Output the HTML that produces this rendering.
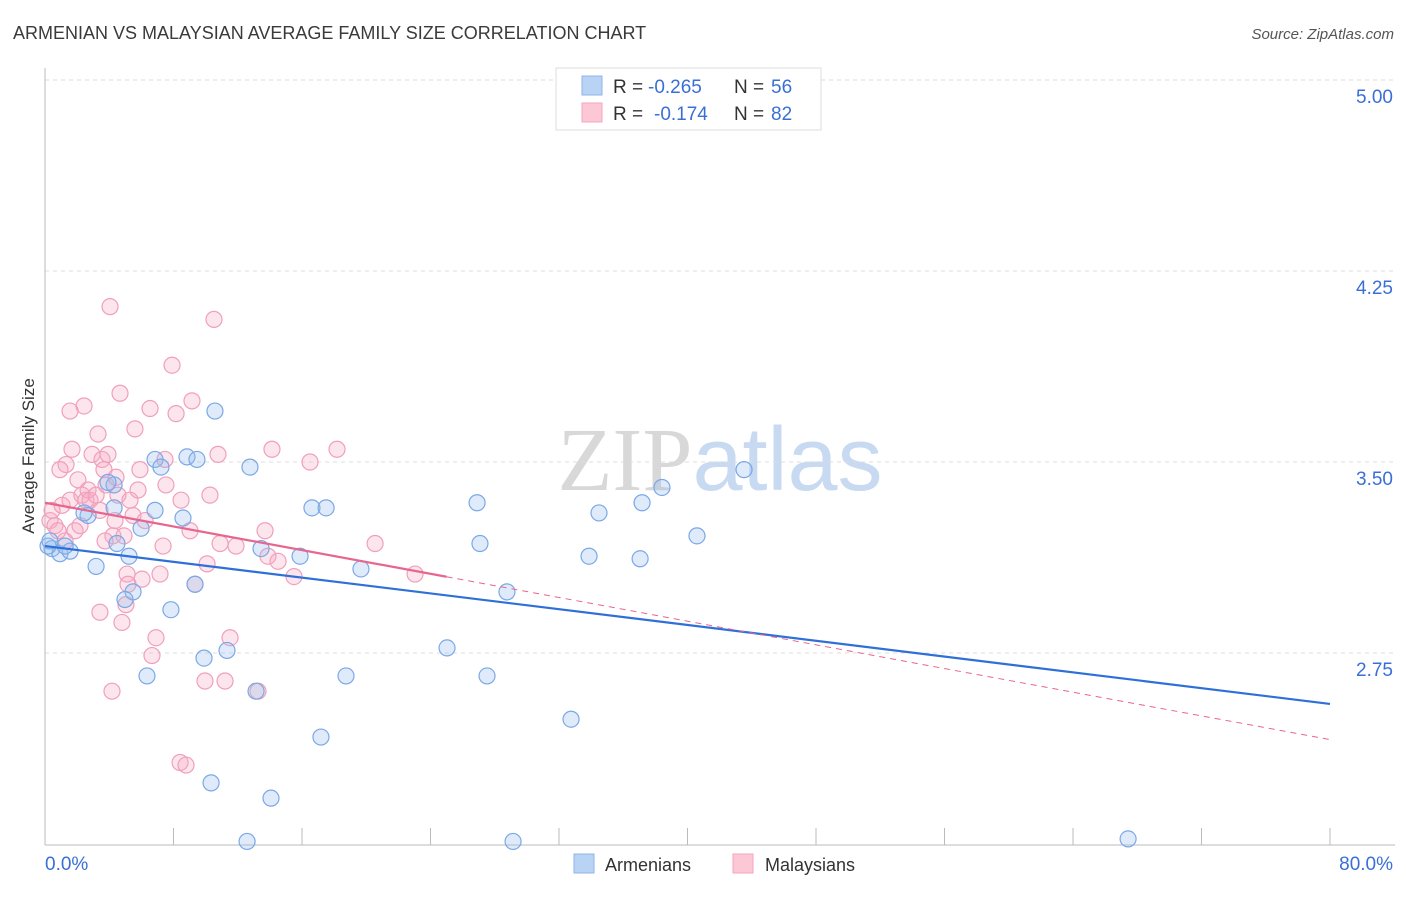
<!DOCTYPE html>
<html><head><meta charset="utf-8"><style>
body{margin:0;background:#fff;font-family:"Liberation Sans",sans-serif}
svg text{font-family:"Liberation Sans",sans-serif}
</style></head><body>
<svg id="c" width="1406" height="892" xmlns="http://www.w3.org/2000/svg">
<text x="13" y="39" font-size="18" fill="#3a3a3a">ARMENIAN VS MALAYSIAN AVERAGE FAMILY SIZE CORRELATION CHART</text>
<text x="1394" y="39" font-size="15" fill="#555" text-anchor="end" font-style="italic">Source: ZipAtlas.com</text>
<text x="720" y="490" font-size="90" text-anchor="middle"><tspan fill="#d8d8d8" font-family="Liberation Serif">ZIP</tspan><tspan fill="#c8daf2">atlas</tspan></text>
<text transform="translate(34,456) rotate(-90)" font-size="17" fill="#333" text-anchor="middle">Average Family Size</text>
<g id="grid"></g><g id="pts"></g><g id="lines"></g>
<g>
<rect x="556" y="68" width="265" height="62" fill="#fff" stroke="#ddd"/>
<rect x="582" y="76" width="20" height="19" fill="#b9d3f5" stroke="#8fb4e8"/>
<rect x="582" y="103" width="20" height="19" fill="#fcc8d6" stroke="#f3a6bb"/>
<text x="613" y="93" font-size="19" fill="#333">R =</text>
<text x="648" y="93" font-size="19" fill="#3a6fd6">-0.265</text>
<text x="734" y="93" font-size="19" fill="#333">N =</text>
<text x="771" y="93" font-size="19" fill="#3a6fd6">56</text>
<text x="613" y="120" font-size="19" fill="#333">R =</text>
<text x="654" y="120" font-size="19" fill="#3a6fd6">-0.174</text>
<text x="734" y="120" font-size="19" fill="#333">N =</text>
<text x="771" y="120" font-size="19" fill="#3a6fd6">82</text>
</g>
<g>
<rect x="574" y="854" width="20" height="19" fill="#b9d3f5" stroke="#8fb4e8"/>
<text x="605" y="871" font-size="18" fill="#333">Armenians</text>
<rect x="733" y="854" width="20" height="19" fill="#fcc8d6" stroke="#f3a6bb"/>
<text x="765" y="871" font-size="18" fill="#333">Malaysians</text>
</g>
</svg>
<script>
const yTicks=[5.00,4.25,3.50,2.75];
const yTickLabels=["5.00","4.25","3.50","2.75"];
const xTickLabels=["0.0%","80.0%"];
const armX=[0.44,0.93,1.56,3.18,2.68,2.43,4.30,3.92,4.30,4.48,5.23,5.48,4.98,5.98,6.35,6.85,6.85,7.22,7.84,8.59,8.84,9.46,9.34,9.90,10.58,11.33,12.58,12.76,13.14,13.45,14.07,15.88,16.62,17.50,17.18,18.74,19.67,25.03,26.90,27.08,27.52,28.76,29.14,32.75,33.87,34.49,37.05,37.17,38.41,40.59,43.52,67.43,10.34,0.19,0.31,1.25];
const armY=[3.16,3.14,3.15,3.09,3.29,3.30,3.41,3.42,3.32,3.18,3.13,2.99,2.96,3.24,2.66,3.31,3.51,3.48,2.92,3.28,3.52,3.51,3.02,2.73,3.70,2.76,2.01,3.48,2.60,3.16,2.18,3.13,3.32,3.32,2.42,2.66,3.08,2.77,3.34,3.18,2.66,2.99,2.01,2.49,3.13,3.30,3.12,3.34,3.40,3.21,3.47,2.02,2.24,3.17,3.19,3.17];
const malX=[0.31,0.44,0.62,0.81,1.06,1.25,1.31,1.56,1.68,1.87,2.05,2.18,2.30,2.43,2.55,2.68,2.80,2.93,3.18,3.30,3.42,3.55,3.67,3.80,3.92,4.05,4.17,4.23,4.36,4.42,4.54,4.67,4.79,4.92,5.04,5.11,5.17,5.29,5.48,5.60,5.79,6.04,6.23,6.54,6.66,6.91,7.16,7.35,7.53,7.91,8.16,8.41,8.47,8.78,9.03,9.15,9.34,9.96,10.09,10.27,10.52,10.77,10.90,11.21,11.52,11.89,13.26,13.70,13.88,14.13,14.51,15.50,16.50,18.18,20.55,23.04,0.93,3.42,5.91,7.47,1.56,3.74];
const malY=[3.27,3.31,3.25,3.23,3.33,3.19,3.49,3.35,3.55,3.23,3.43,3.25,3.37,3.72,3.35,3.39,3.35,3.53,3.37,3.61,2.91,3.51,3.47,3.41,3.53,4.11,2.60,3.21,3.27,3.44,3.37,3.77,2.87,3.21,2.94,3.06,3.02,3.35,3.29,3.63,3.39,3.04,3.27,3.71,2.74,2.81,3.06,3.17,3.41,3.88,3.69,2.32,3.35,2.31,3.23,3.74,3.02,2.64,3.10,3.37,4.06,3.53,3.18,2.64,2.81,3.17,2.60,3.23,3.13,3.55,3.11,3.05,3.50,3.55,3.18,3.06,3.47,3.31,3.47,3.51,3.70,3.19];
const armTrend=[3.17,2.55];
const malTrend=[3.34,2.41];
const malSolidEnd=25;
const NS="http://www.w3.org/2000/svg";
const X=v=>45+v/80*1285, Y=v=>80+(5-v)/0.75*191;
function mk(p,t,a){const e=document.createElementNS(NS,t);for(const k in a)e.setAttribute(k,a[k]);document.getElementById(p).appendChild(e);return e;}
yTicks.forEach((t,i)=>{
 const l=mk('grid','line',{x1:45,x2:1395,y1:Y(t),y2:Y(t),stroke:'#ddd','stroke-dasharray':'4,4'});
 
 
 const tx=mk('grid','text',{x:1393,y:Y(t)+23,'font-size':19,fill:'#3a6fd6','text-anchor':'end'});tx.textContent=yTickLabels[i];
 
 
});
const ax=mk('grid','line',{x1:45,x2:45,y1:68,y2:845,stroke:'#bbb'});


const bx=mk('grid','line',{x1:45,x2:1395,y1:845,y2:845,stroke:'#bbb'});


for(let i=0;i<=10;i++){const t=mk('grid','line',{x1:X(i*8),x2:X(i*8),y1:828,y2:845,stroke:'#bbb'});
 
 }
[[0,'start',45],[80,'end',1393]].forEach((d,i)=>{const t=mk('grid','text',{x:d[2],y:870,'font-size':19,fill:'#3a6fd6','text-anchor':d[1]});t.textContent=xTickLabels[i];
 
 });
malX.forEach((x,i)=>{const c=mk('pts','circle',{cx:X(x),cy:Y(malY[i]),r:8,fill:'rgba(248,170,195,0.3)',stroke:'#f0a0ba','stroke-width':1.2});
 
 });
armX.forEach((x,i)=>{const c=mk('pts','circle',{cx:X(x),cy:Y(armY[i]),r:8,fill:'rgba(150,190,240,0.3)',stroke:'#7aa8e6','stroke-width':1.2});
 
 });
const mAt=x=>malTrend[0]+(malTrend[1]-malTrend[0])*x/80;
const l1=mk('lines','line',{x1:X(0),y1:Y(armTrend[0]),x2:X(80),y2:Y(armTrend[1]),stroke:'#2f6fd8','stroke-width':2.2});


const l2=mk('lines','line',{x1:X(0),y1:Y(mAt(0)),x2:X(malSolidEnd),y2:Y(mAt(malSolidEnd)),stroke:'#e8668e','stroke-width':2.2});


const l3=mk('lines','line',{x1:X(malSolidEnd),y1:Y(mAt(malSolidEnd)),x2:X(80),y2:Y(mAt(80)),stroke:'#e8668e','stroke-width':1,'stroke-dasharray':'6,5'});


</script>
</body></html>
